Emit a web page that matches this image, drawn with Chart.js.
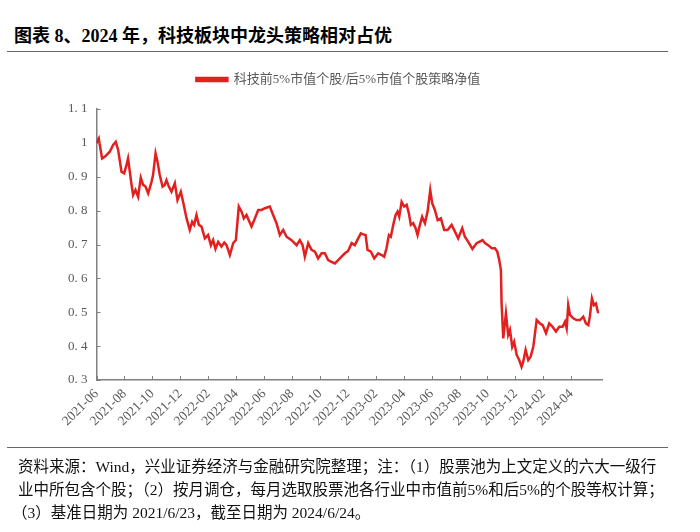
<!DOCTYPE html>
<html>
<head>
<meta charset="utf-8">
<script src="https://cdn.jsdelivr.net/npm/chart.js@4.4.1/dist/chart.umd.min.js"></script>
<style>
  body { margin: 0; width: 700px; height: 532px; position: relative; background: #fff; overflow: hidden;
         font-family: "Liberation Serif", "Noto Sans CJK SC", serif; }
  #title { position: absolute; left: 14px; top: 21px; font-size: 18px; font-weight: bold; color: #000; white-space: nowrap; }
  .rule { position: absolute; left: 7px; width: 661px; height: 0; border-top: 1.5px solid #666; }
  #box { position: absolute; left: 0; top: 0; width: 700px; height: 532px; }
  .note { position: absolute; left: 18px; font-size: 15.5px; color: #111; white-space: nowrap; }
</style>
</head>
<body>
<div id="title">图表 8、2024 年，科技板块中龙头策略相对占优</div>
<div class="rule" style="top:51px"></div>
<div id="box"><canvas id="chart" width="700" height="532"></canvas></div>
<div class="rule" style="top:447px"></div>
<div class="note" style="top:454px">资料来源：Wind，兴业证券经济与金融研究院整理；注：（1）股票池为上文定义的六大一级行</div>
<div class="note" style="top:477px">业中所包含个股；（2）按月调仓，每月选取股票池各行业中市值前5%和后5%的个股等权计算；</div>
<div class="note" style="top:500px;left:12px">（3）基准日期为 2021/6/23，截至日期为 2024/6/24。</div>

<script>
const SERIES_LABEL = "科技前5%市值个股/后5%市值个股策略净值"

// x tick labels, one every two months starting at the axis origin
const X_TICK_LABELS = [
  "2021-06", "2021-08", "2021-10", "2021-12", "2022-02", "2022-04",
  "2022-06", "2022-08", "2022-10", "2022-12", "2023-02", "2023-04",
  "2023-06", "2023-08", "2023-10", "2023-12", "2024-02", "2024-04",
]
const Y_TICKS = [0.3, 0.4, 0.5, 0.6, 0.7, 0.8, 0.9, 1.0, 1.1]

// months elapsed since 2021-06-23
const MONTHS = [
  0, 0.16, 0.40, 0.59, 0.95, 1.19, 1.38, 1.55, 1.79, 1.98, 2.15, 2.26, 2.51, 2.62, 2.79, 2.98,
  3.17, 3.34, 3.51, 3.70, 3.94, 4.05, 4.23, 4.37, 4.53, 4.73, 4.89, 5.01, 5.18, 5.37, 5.61, 5.80,
  6.04, 6.20, 6.45, 6.68, 6.85, 6.99, 7.16, 7.33, 7.52, 7.76, 7.99, 8.19, 8.35, 8.52, 8.71, 8.95,
  9.15, 9.31, 9.55, 9.79, 9.98, 10.19, 10.39, 10.55, 10.74, 11.10, 11.34, 11.58, 11.82, 12.06, 12.41, 12.65,
  12.89, 13.13, 13.37, 13.61, 13.97, 14.33, 14.56, 14.76, 14.92, 15.16, 15.40, 15.64, 15.87, 16.12, 16.35, 16.59,
  16.83, 17.07, 17.31, 17.55, 17.79, 18.02, 18.27, 18.50, 18.74, 18.93, 19.10, 19.27, 19.41, 19.65, 19.89, 20.17,
  20.42, 20.60, 20.77, 20.94, 21.08, 21.25, 21.42, 21.56, 21.68, 21.85, 22.03, 22.21, 22.37, 22.51, 22.68, 22.85,
  22.99, 23.16, 23.32, 23.52, 23.71, 23.90, 24.04, 24.23, 24.43, 24.66, 24.90, 25.14, 25.43, 25.67, 25.90, 26.19,
  26.38, 26.62, 26.92, 27.22, 27.65, 27.82, 28.05, 28.30, 28.53, 28.70, 28.84, 28.96, 29.01, 29.13, 29.32, 29.48,
  29.61, 29.77, 29.91, 30.09, 30.27, 30.44, 30.56, 30.73, 30.92, 31.09, 31.28, 31.52, 31.76, 31.95, 32.19, 32.42,
  32.66, 32.90, 33.14, 33.38, 33.55, 33.67, 33.78, 33.91, 34.14, 34.38, 34.62, 34.86, 35.05, 35.22, 35.33, 35.48,
  35.62, 35.76, 35.93,
]
const NAV = [
  1.000, 1.013, 0.954, 0.959, 0.974, 0.994, 1.003, 0.979, 0.915, 0.910, 0.935, 0.954, 0.876, 0.846, 0.861, 0.841,
  0.897, 0.876, 0.871, 0.851, 0.885, 0.905, 0.969, 0.944, 0.905, 0.871, 0.876, 0.890, 0.871, 0.856, 0.881, 0.831,
  0.856, 0.826, 0.777, 0.743, 0.767, 0.758, 0.787, 0.758, 0.753, 0.718, 0.728, 0.698, 0.713, 0.687, 0.708, 0.694,
  0.706, 0.698, 0.669, 0.704, 0.713, 0.812, 0.797, 0.777, 0.787, 0.753, 0.777, 0.802, 0.802, 0.807, 0.812, 0.787,
  0.763, 0.728, 0.743, 0.723, 0.713, 0.698, 0.713, 0.698, 0.664, 0.704, 0.684, 0.679, 0.659, 0.674, 0.674, 0.654,
  0.649, 0.644, 0.654, 0.664, 0.674, 0.681, 0.704, 0.698, 0.718, 0.733, 0.730, 0.728, 0.684, 0.679, 0.659, 0.674,
  0.669, 0.664, 0.689, 0.728, 0.723, 0.758, 0.787, 0.797, 0.782, 0.826, 0.812, 0.817, 0.792, 0.758, 0.763, 0.748,
  0.728, 0.758, 0.782, 0.763, 0.797, 0.861, 0.822, 0.802, 0.772, 0.777, 0.743, 0.743, 0.758, 0.738, 0.718, 0.748,
  0.723, 0.708, 0.687, 0.704, 0.713, 0.704, 0.698, 0.689, 0.689, 0.679, 0.654, 0.625, 0.526, 0.423, 0.497, 0.433,
  0.448, 0.398, 0.413, 0.374, 0.359, 0.339, 0.354, 0.389, 0.359, 0.369, 0.398, 0.477, 0.467, 0.462, 0.438, 0.467,
  0.457, 0.443, 0.457, 0.457, 0.472, 0.452, 0.521, 0.492, 0.482, 0.477, 0.477, 0.487, 0.467, 0.462, 0.487, 0.541,
  0.521, 0.526, 0.497,
]

const AXIS_COLOR = "#808080"
const TEXT_COLOR = "#595959"
const LINE_COLOR = "#e2201f"
const FONT = { family: "'Liberation Serif', 'Noto Sans CJK SC', serif", size: 13 }

// Excel-style tick marks pointing into the plot
const innerTicks = {
  id: "innerTicks",
  afterDraw(chart) {
    const { ctx, chartArea, scales: { x, y } } = chart
    ctx.save()
    ctx.strokeStyle = AXIS_COLOR
    ctx.lineWidth = 1
    ctx.beginPath()
    x.ticks.forEach(t => {
      const px = Math.round(x.getPixelForValue(t.value)) + 0.5
      ctx.moveTo(px, chartArea.bottom)
      ctx.lineTo(px, chartArea.bottom - 4)
    })
    y.ticks.forEach(t => {
      const py = Math.round(y.getPixelForValue(t.value)) + 0.5
      ctx.moveTo(chartArea.left, py)
      ctx.lineTo(chartArea.left + 4, py)
    })
    ctx.stroke()
    ctx.restore()
  }
}

// legend sits a bit right of the canvas centre, with a gap below it
const legendPlace = {
  id: "legendPlace",
  beforeInit(chart) {
    const legend = chart.legend
    const fit = legend.fit
    const draw = legend.draw
    legend.fit = function () {
      fit.call(this)
      this.height += 13
    }
    legend.draw = function () {
      const ctx = this.ctx
      ctx.save()
      ctx.translate(9, 0)
      draw.call(this)
      ctx.restore()
    }
  }
}

new Chart(document.getElementById("chart"), {
  type: "line",
  data: {
    datasets: [{
      label: SERIES_LABEL,
      data: MONTHS.map((m, i) => ({ x: m, y: NAV[i] })),
      borderColor: LINE_COLOR,
      backgroundColor: LINE_COLOR,
      borderWidth: 2.5,
      pointRadius: 0,
      tension: 0,
      fill: false,
    }]
  },
  options: {
    responsive: false,
    animation: false,
    devicePixelRatio: 1,
    layout: { autoPadding: false, padding: { left: 56.5, right: 98, top: 63, bottom: 102 } },
    plugins: {
      legend: {
        display: true,
        position: "top",
        labels: { boxWidth: 31, boxHeight: 3, color: TEXT_COLOR, font: FONT, padding: 10 }
      },
      tooltip: { enabled: false },
    },
    scales: {
      x: {
        type: "linear",
        min: 0,
        max: 36.2,
        afterBuildTicks: (s) => { s.ticks = X_TICK_LABELS.map((_, i) => ({ value: i * 2 })) },
        afterFit: (s) => { s.height = 50 },
        ticks: {
          autoSkip: false,
          maxRotation: 45,
          minRotation: 45,
          padding: 6,
          color: TEXT_COLOR,
          font: { ...FONT, size: 13.5 },
          callback: (v) => X_TICK_LABELS[Math.round(v / 2)],
        },
        grid: { display: true, drawOnChartArea: false, drawTicks: false },
        border: { display: true, color: AXIS_COLOR, width: 1.5 },
      },
      y: {
        min: 0.3,
        max: 1.1,
        afterBuildTicks: (s) => { s.ticks = Y_TICKS.map(v => ({ value: v })) },
        afterFit: (s) => { s.width = 40 },
        ticks: {
          padding: 9,
          color: TEXT_COLOR,
          font: { ...FONT, size: 13 },
          callback: (v) => Math.abs(v - 1) < 1e-6 ? "1" : v.toFixed(1).replace(".", ". "),
        },
        grid: { display: true, drawOnChartArea: false, drawTicks: false },
        border: { display: true, color: AXIS_COLOR, width: 1.5 },
      }
    }
  },
  plugins: [innerTicks, legendPlace]
})
</script>
</body>
</html>
